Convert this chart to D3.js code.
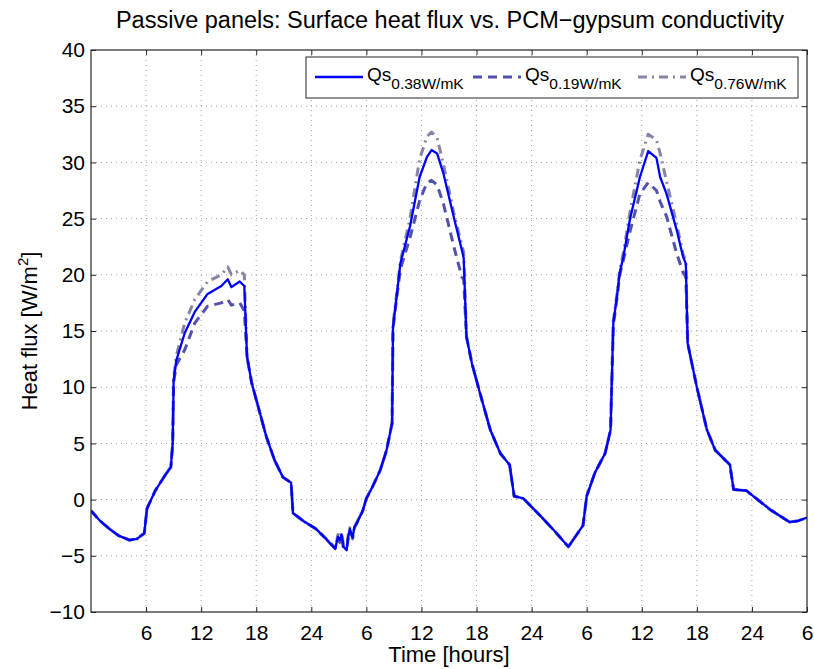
<!DOCTYPE html>
<html>
<head>
<meta charset="utf-8">
<script src="https://cdn.jsdelivr.net/npm/d3@7"></script>
<style>
  html, body { margin: 0; padding: 0; background: #fff; }
  svg { display: block; font-family: "Liberation Sans", Arial, sans-serif; }
</style>
</head>
<body>
<svg id="chart" width="814" height="669"></svg>
<script>
// ---- data ----
const hours = [0, 1, 2, 3, 4.2, 5, 5.8, 6.1, 7.0, 8.1, 8.7, 8.9, 9.0, 9.3, 10.2, 11.3, 12.7, 14.2, 14.9, 15.3, 16.2, 16.7, 17.0, 17.5, 18.2, 19.1, 20.0, 20.9, 21.8, 22.0, 23.3, 24.5, 25.5,
  26.6, 26.9, 27.1, 27.3, 27.5, 27.85, 28.0, 28.2, 28.5, 28.7, 28.9, 29.6, 30.0, 30.7, 31.5, 32.2, 32.8, 32.9, 33.3, 33.7, 34.75, 35.8, 36.6, 37.1, 37.7, 38.4, 39.5, 40.4, 40.6, 40.9, 41.5, 42.4, 43.5, 44.6, 45.6, 46.1, 47.1, 48.9,
  50.5, 52.0, 53.6, 54.0, 54.9, 56.0, 56.6, 56.9, 57.3, 57.6, 58.0, 58.7, 59.8, 60.7, 61.6, 62.0, 62.7, 63.8, 64.5, 64.8, 65.0, 66.0, 67.1, 68.0, 69.6, 70.0, 71.4, 74.0, 76.1, 77.0, 78.0];

const qs038 = [-1.0, -1.9, -2.6, -3.2, -3.6, -3.5, -3.0, -0.8, 0.8, 2.2, 2.9, 5.0, 10.6, 12.4, 14.8, 16.7, 18.3, 19.0, 19.6, 18.9, 19.4, 19.0, 12.7, 10.4, 8.3, 5.6, 3.5, 2.0, 1.5, -1.2, -2.0, -2.6, -3.4,
  -4.4, -3.3, -3.6, -3.1, -4.2, -4.5, -3.4, -2.6, -3.4, -2.4, -2.2, -1.0, 0.1, 1.2, 2.6, 4.4, 6.8, 15.4, 18.1, 21.0, 24.3, 28.7, 30.5, 31.1, 30.8, 29.0, 25.2, 22.2, 21.5, 14.5, 12.1, 9.4, 6.2, 4.1, 3.1, 0.3, 0.1, -1.4,
  -2.8, -4.2, -2.3, 0.3, 2.4, 4.1, 6.2, 15.7, 18.1, 20.2, 21.6, 24.9, 28.7, 31.0, 30.4, 28.7, 27.2, 24.0, 21.6, 21.0, 13.9, 10.0, 6.2, 4.4, 3.1, 0.9, 0.8, -0.9, -2.0, -1.9, -1.6];

const qs019 = [-1.0, -1.9, -2.6, -3.2, -3.6, -3.5, -3.0, -0.8, 0.8, 2.2, 2.9, 5.0, 10.4, 12.0, 13.3, 15.7, 17.2, 17.5, 17.8, 17.3, 17.5, 16.8, 12.7, 10.4, 8.3, 5.6, 3.5, 2.0, 1.5, -1.2, -2.0, -2.6, -3.4,
  -4.3, -3.5, -3.8, -3.2, -4.3, -4.4, -3.6, -2.8, -3.3, -2.5, -2.2, -1.0, 0.1, 1.2, 2.6, 4.4, 6.8, 15.2, 17.9, 20.5, 23.3, 26.6, 28.2, 28.4, 28.0, 26.3, 22.6, 19.8, 19.6, 14.5, 12.1, 9.4, 6.2, 4.1, 3.1, 0.3, 0.1, -1.4,
  -2.8, -4.2, -2.3, 0.3, 2.4, 4.1, 6.2, 15.5, 17.9, 20.0, 21.3, 23.8, 27.2, 28.2, 27.5, 26.5, 25.2, 21.9, 20.2, 19.8, 13.9, 10.0, 6.2, 4.4, 3.1, 0.9, 0.8, -0.9, -2.0, -1.9, -1.6];

const qs076 = [-1.0, -1.9, -2.6, -3.2, -3.6, -3.5, -3.0, -0.8, 0.8, 2.2, 2.9, 5.0, 10.8, 12.8, 15.7, 17.8, 19.4, 20.0, 20.7, 20.0, 20.4, 20.0, 12.7, 10.4, 8.3, 5.6, 3.5, 2.0, 1.5, -1.2, -2.0, -2.6, -3.4,
  -4.4, -3.1, -3.4, -2.9, -4.0, -4.4, -3.2, -2.5, -3.5, -2.3, -2.1, -1.0, 0.1, 1.2, 2.6, 4.4, 6.8, 15.6, 18.3, 21.2, 25.0, 30.3, 32.3, 32.7, 32.2, 29.8, 25.6, 22.6, 22.0, 14.5, 12.1, 9.4, 6.2, 4.1, 3.1, 0.3, 0.1, -1.4,
  -2.8, -4.2, -2.3, 0.3, 2.4, 4.1, 6.2, 15.9, 18.3, 20.4, 22.0, 25.5, 30.2, 32.5, 32.0, 30.8, 28.3, 24.5, 21.8, 21.3, 13.9, 10.0, 6.2, 4.4, 3.1, 0.9, 0.8, -0.9, -2.0, -1.9, -1.6];

const xTickValues = [6, 12, 18, 24, 30, 36, 42, 48, 54, 60, 66, 72, 78];
const xTickLabels = ["6", "12", "18", "24", "6", "12", "18", "24", "6", "12", "18", "24", "6"];
const yTickValues = [-10, -5, 0, 5, 10, 15, 20, 25, 30, 35, 40];
const seriesNames = ["0.38W/mK", "0.19W/mK", "0.76W/mK"];

// ---- layout ----
const svg = d3.select("#chart");
const L = 91, R = 807, T = 50, B = 612;
const x = d3.scaleLinear().domain([0, 78]).range([L, R]);
const y = d3.scaleLinear().domain([-10, 40]).range([B, T]);
const axisColor = "#262626";

// grid
const grid = svg.append("g");
grid.selectAll("line.gx").data(xTickValues.slice(0, -1)).enter().append("line")
  .attr("x1", d => x(d)).attr("x2", d => x(d)).attr("y1", T).attr("y2", B)
  .attr("stroke", "#a0a0a0").attr("stroke-width", 1).attr("stroke-dasharray", "1,4");
grid.selectAll("line.gy").data(yTickValues.slice(1, -1)).enter().append("line")
  .attr("x1", L).attr("x2", R).attr("y1", d => y(d)).attr("y2", d => y(d))
  .attr("stroke", "#a0a0a0").attr("stroke-width", 1).attr("stroke-dasharray", "1,4");

// axes
function styleAxis(g) {
  g.select(".domain").remove();
  g.selectAll(".tick line").attr("stroke", axisColor);
  g.selectAll(".tick text").attr("fill", "#000").attr("font-size", 21)
    .attr("font-family", "'Liberation Sans', Arial, sans-serif");
}
svg.append("g").attr("transform", `translate(0,${B})`)
  .call(d3.axisBottom(x).tickValues(xTickValues).tickSize(-5).tickPadding(13)
    .tickFormat((d, i) => xTickLabels[i]))
  .call(styleAxis);
svg.append("g").attr("transform", `translate(0,${T})`)
  .call(d3.axisTop(x).tickValues(xTickValues).tickSize(-5).tickFormat(""))
  .call(styleAxis);
svg.append("g").attr("transform", `translate(${L},0)`)
  .call(d3.axisLeft(y).tickValues(yTickValues).tickSize(-5).tickPadding(6)
    .tickFormat(d => d < 0 ? "\u2212" + Math.abs(d) : String(d)))
  .call(styleAxis);
svg.append("g").attr("transform", `translate(${R},0)`)
  .call(d3.axisRight(y).tickValues(yTickValues).tickSize(-5).tickFormat(""))
  .call(styleAxis);

// lines
const line = d3.line().x((d, i) => x(hours[i])).y(d => y(d));
const clipId = "plotclip";
svg.append("clipPath").attr("id", clipId).append("rect")
  .attr("x", L).attr("y", T).attr("width", R - L).attr("height", B - T);
const lines = svg.append("g").attr("clip-path", `url(#${clipId})`);
const styles = [
  { data: qs076, color: "#8585a3", width: 3, dash: "9,5,2,5" },
  { data: qs019, color: "#5252ad", width: 3, dash: "9,6" },
  { data: qs038, color: "#0000ff", width: 2.3, dash: null }
];
styles.forEach(s => {
  lines.append("path").datum(s.data).attr("d", line)
    .attr("fill", "none").attr("stroke", s.color).attr("stroke-width", s.width)
    .attr("stroke-dasharray", s.dash).attr("stroke-linejoin", "round");
});

// box
svg.append("rect").attr("x", L).attr("y", T).attr("width", R - L).attr("height", B - T)
  .attr("fill", "none").attr("stroke", axisColor).attr("stroke-width", 1.2);

// title and labels
svg.append("text").attr("x", (L + R) / 2 + 1).attr("y", 28).attr("text-anchor", "middle")
  .attr("font-size", 23.5).text("Passive panels: Surface heat flux vs. PCM\u2212gypsum conductivity");
svg.append("text").attr("x", (L + R) / 2).attr("y", 662).attr("text-anchor", "middle")
  .attr("font-size", 22).text("Time [hours]");
const yl = svg.append("text").attr("transform", `translate(37,331) rotate(-90)`)
  .attr("text-anchor", "middle").attr("font-size", 22);
yl.append("tspan").text("Heat flux [W/m");
yl.append("tspan").attr("font-size", 15).attr("dy", -9).text("2");
yl.append("tspan").attr("dy", 9).text("]");

// legend
const lg = svg.append("g");
lg.append("rect").attr("x", 306).attr("y", 57).attr("width", 492).attr("height", 41)
  .attr("fill", "#fff").attr("stroke", axisColor).attr("stroke-width", 1);
const legendX = [315, 473, 638];
styles.slice().reverse().forEach((s, i) => {
  const lx = legendX[i];
  lg.append("line").attr("x1", lx).attr("x2", lx + 48).attr("y1", 77).attr("y2", 77)
    .attr("stroke", s.color).attr("stroke-width", s.width).attr("stroke-dasharray", s.dash);
  const t = lg.append("text").attr("x", lx + 52).attr("y", 81).attr("font-size", 19);
  t.append("tspan").text("Qs");
  t.append("tspan").attr("font-size", 15.5).attr("dy", 8).text(seriesNames[i]);
});
</script>
</body>
</html>
